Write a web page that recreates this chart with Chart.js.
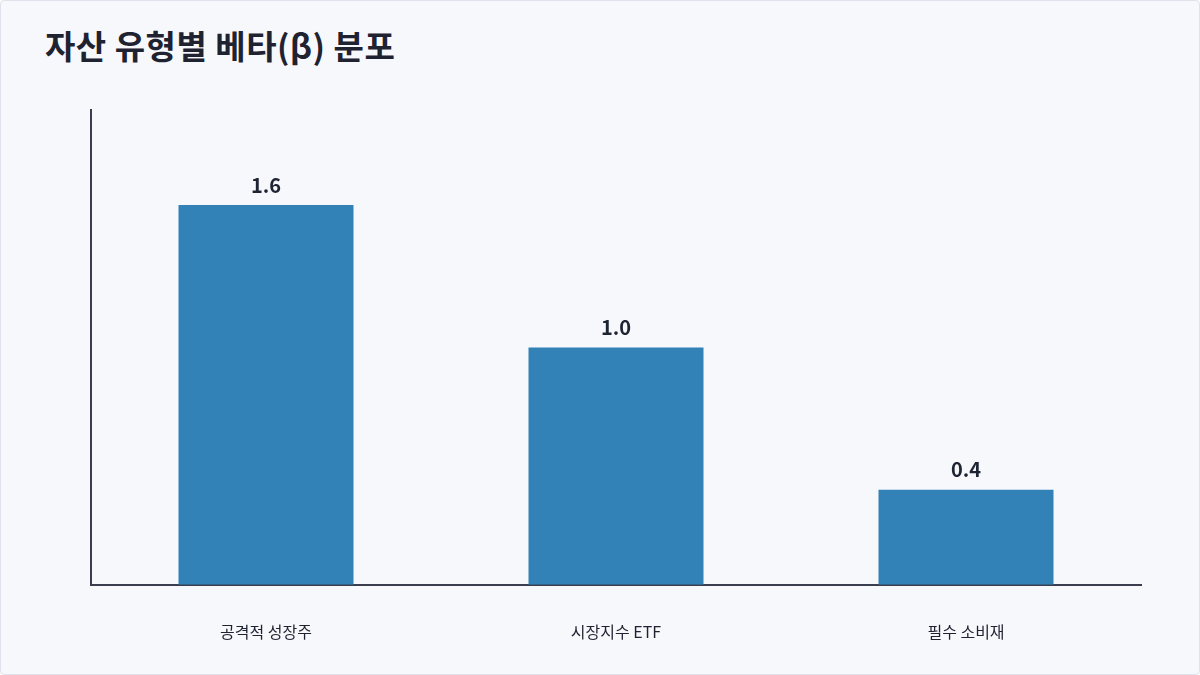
<!DOCTYPE html>
<html><head><meta charset="utf-8">
<script src="https://cdn.jsdelivr.net/npm/chart.js@4/dist/chart.umd.min.js"></script>
<style>
html,body{margin:0;padding:0;background:#fff;}
#wrap{position:relative;width:1198px;height:673px;border:1px solid #dfe2ea;border-radius:4px;background:#f7f8fc;overflow:hidden;}
#title{position:absolute;left:44px;top:20px;font-family:"Noto Sans CJK KR";font-weight:700;font-size:33px;color:#1f2230;letter-spacing:0.5px;}
canvas{position:absolute;left:0;top:0;}
</style></head><body>
<div id="wrap"><div id="title">자산 유형별 베타(β) 분포</div><canvas id="c" width="1198" height="673"></canvas></div>
<script>
const categories = ["공격적 성장주", "시장지수 ETF", "필수 소비재"];
const betaValues = [1.6, 1.0, 0.4];
const valueLabels = ["1.6", "1.0", "0.4"];

const labelPlugin = {
  id: 'vals',
  afterDatasetsDraw(chart) {
    const ctx = chart.ctx;
    const meta = chart.getDatasetMeta(0);
    ctx.save();
    ctx.font = '700 20px "Noto Sans CJK KR"';
    ctx.fillStyle = '#1f2433';
    ctx.textAlign = 'center';
    ctx.textBaseline = 'bottom';
    meta.data.forEach((bar, i) => ctx.fillText(valueLabels[i], bar.x, bar.y - 10));
    ctx.restore();
  }
};

new Chart(document.getElementById('c'), {
  type: 'bar',
  data: { labels: categories, datasets: [{ data: betaValues, backgroundColor: '#3282b8', barPercentage: 0.5, categoryPercentage: 1 }] },
  options: {
    responsive: false, animation: false,
    layout: { padding: { left: 82, right: 58, top: 109, bottom: 2 } },
    plugins: { legend: { display: false }, tooltip: { enabled: false } },
    scales: {
      x: { grid: { display: false }, border: { color: '#3a3d4d', width: 2 },
           ticks: { padding: 30, color: '#1f2230', font: { family: '"Noto Sans CJK KR"', size: 16 } } },
      y: { min: 0, max: 2, grid: { display: false }, border: { color: '#3a3d4d', width: 2 },
           ticks: { display: false } }
    }
  },
  plugins: [labelPlugin]
});
</script></body></html>
